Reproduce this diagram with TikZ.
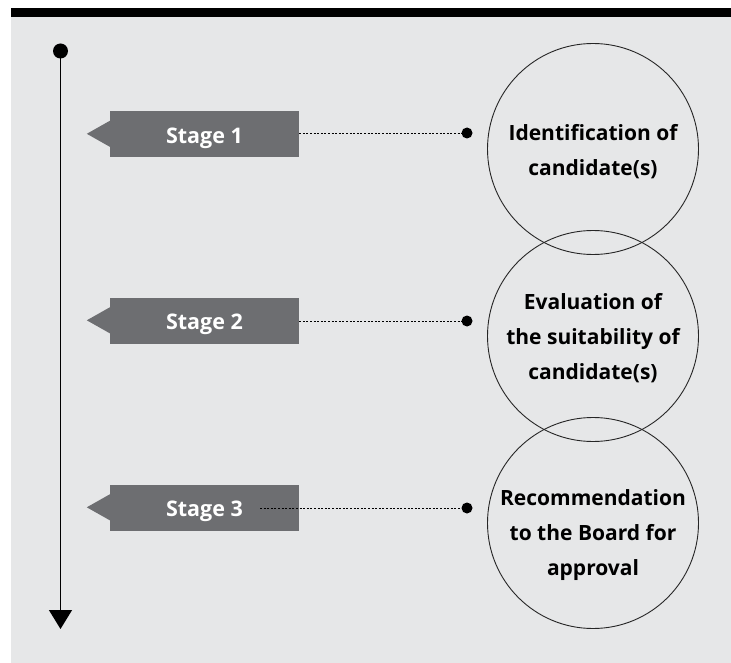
\documentclass[tikz,border=0pt]{standalone}
\usepackage{fontspec}
\setmainfont{Open Sans}
\usetikzlibrary{arrows.meta}
\definecolor{panel}{HTML}{E6E7E8}
\definecolor{tabgray}{HTML}{6D6E71}
\begin{document}
\begin{tikzpicture}[x=1pt,y=-1pt,
  stagebox/.style={fill=tabgray, minimum width=189pt, minimum height=46pt,
    inner sep=0pt, text=white, text height=18.4pt, text depth=0pt,
    font=\bfseries\fontsize{21.5}{24}\selectfont},
  phase/.style={circle, draw=black!85, line width=0.9pt, minimum size=211pt, inner sep=0pt},
  phasetext/.style={align=center, font=\bfseries\fontsize{21}{35}\selectfont},
  leader/.style={line width=0.9pt, dash pattern=on 2pt off 1.6pt},
  enddot/.style={circle, fill=black, minimum size=11pt, inner sep=0pt},
  timeline/.style={line width=1.3pt, -{Triangle[width=23pt,length=19pt]}}]
\useasboundingbox (0,0) rectangle (731,663);
% panel and header bar
\fill[panel] (11,17) rectangle (731,663);
\fill[black] (11,8) rectangle (731,17);

% time axis
\node[circle, fill=black, minimum size=15pt, inner sep=0pt] (start) at (60.5,51) {};
\coordinate (finish) at (60.5,629);
\draw[timeline] (start.center) -- (finish);

% phase circles
\node[phase] (c1) at (593,149) {};
\node[phase] (c2) at (593,336) {};
\node[phase] (c3) at (593,523) {};
\node[phasetext] (t1) at (593,152) {Identification of\\candidate(s)};
\node[phasetext] (t2) at (593,338) {Evaluation of\\the suitability of\\candidate(s)};
\node[phasetext] (t3) at (593,535) {Recommendation\\to the Board for\\approval};

% stage tabs
\node[stagebox] (s1) at (204.5,134) {Stage 1};
\node[stagebox] (s2) at (204.5,320.5) {Stage 2};
\node[stagebox] (s3) at (204.5,507.5) {Stage 3};
\foreach \s in {s1,s2,s3}{
  \fill[tabgray] (\s.north west) ++(0,10) -- ++(-23,13) -- ++(23,13) -- cycle;
}

% leaders from tabs to the circles
\node[enddot] (d1) at (467,133) {};
\node[enddot] (d2) at (467,321) {};
\node[enddot] (d3) at (467,508) {};
\draw[leader] (s1.east |- d1) -- (d1.center);
\draw[leader] (s2.east |- d2) -- (d2.center);
\coordinate (l3) at (260,508);
\draw[leader] (l3) -- (d3.center);
\end{tikzpicture}
\end{document}
